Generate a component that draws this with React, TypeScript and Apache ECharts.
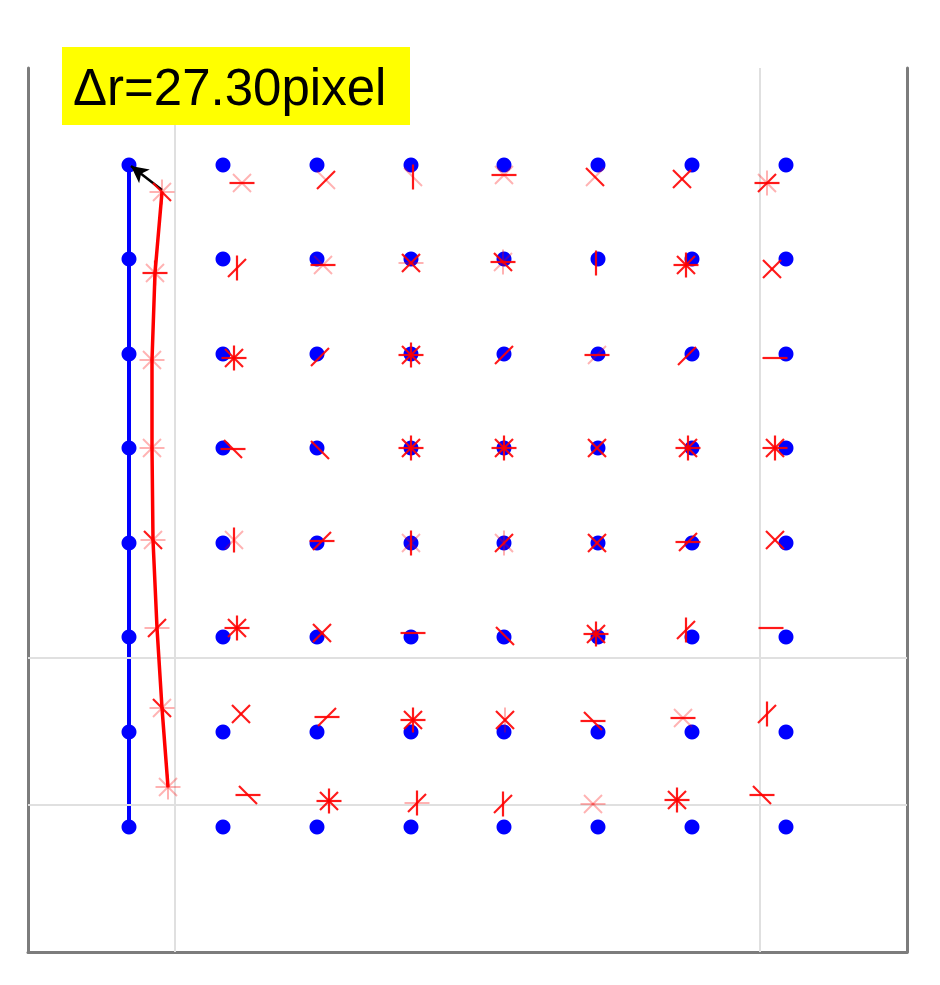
import React, { useEffect, useRef } from "react";
import * as echarts from "echarts";

// axis extents (image-pixel units, y grows downward)
const X_RANGE = [28, 907];
const Y_RANGE = [68, 952];
// grid / tick positions
const GRID_X = [175, 760];
const GRID_Y = [658, 805];

// reference (blue) lattice
const BLUE_COL_X = [129, 223, 317, 411, 504, 598, 692, 786];
const BLUE_ROW_Y = [165, 259, 354, 448, 543, 637, 732, 827];

// measured (red) positions, row by row
const RED_X = [
  [162, 242, 326, 413, 504, 595, 682, 767],
  [155, 237, 323, 411, 503, 596, 686, 772],
  [152, 234, 320, 411, 504, 597, 687, 775],
  [152, 233, 320, 411, 504, 597, 688, 775],
  [153, 234, 322, 411, 504, 597, 688, 775],
  [157, 237, 322, 413, 505, 596, 686, 771],
  [162, 241, 327, 413, 505, 593, 683, 767],
  [168, 248, 329, 417, 503, 593, 677, 762],
];
const RED_Y = [
  [192, 183, 180, 177, 175, 177, 179, 183],
  [273, 268, 265, 263, 262, 263, 265, 269],
  [360, 358, 357, 355, 355, 355, 356, 358],
  [448, 449, 450, 448, 448, 448, 448, 448],
  [540, 540, 541, 543, 543, 543, 542, 540],
  [628, 628, 633, 633, 636, 634, 630, 628],
  [708, 714, 717, 720, 720, 721, 718, 714],
  [787, 795, 801, 803, 804, 804, 800, 795],
];
// marker strokes "strong:faint"; h = horizontal, v = vertical, r = rising, f = falling
const RED_SHAPES = [
  ["f:rhv", "h:rf", "r:f", "v:f", "h:rf", "f:r", "rf:", "hr:fv"],
  ["hv:rf", "vr:", "h:rf", "rf:h", "hf:vr", "v:", "hvrf:", "rf:"],
  [":rfhv", "hvrf:", "r:", "hvrf:", "r:", "h:r", "r:", "h:"],
  [":hvrf", "hf:", "f:", "hvrf:", "hvrf:", "rf:", "hvrf:", "hvrf:"],
  ["f:rhv", "v:rf", "hr:", "v:rf", "r:fv", "rf:", "hr:", "rf:"],
  ["r:h", "hvrf:", "rf:", "h:", "f:", "hvrf:", "vr:", "h:"],
  ["f:hr", "rf:", "hr:", "hvrf:", "rf:v", "hf:", "h:rf", "vr:"],
  [":hvrf", "hf:", "hvrf:", "vr:h", "vr:", ":rfh", "hvrf:", "hf:"],
];

const LABEL_TEXT = "\u0394r=27.30pixel";

export default function App() {
  const ref = useRef<HTMLDivElement>(null);

  useEffect(() => {
    if (!ref.current) return;
    const chart = echarts.init(ref.current, null, { renderer: "svg" });

    const blueData: number[][] = [];
    BLUE_ROW_Y.forEach((y) => BLUE_COL_X.forEach((x) => blueData.push([x, y])));
    const blueLine = BLUE_ROW_Y.map((y) => [BLUE_COL_X[0], y]);

    const redData: number[][] = [];
    const redShapes: string[] = [];
    RED_X.forEach((row, r) =>
      row.forEach((x, c) => {
        redData.push([x, RED_Y[r][c]]);
        redShapes.push(RED_SHAPES[r][c]);
      })
    );
    const redLine = RED_X.map((row, r) => [row[0], RED_Y[r][0]]);

    const tickData = [
      ...GRID_X.map((v) => [v, Y_RANGE[1]]),
      ...GRID_Y.map((v) => [X_RANGE[0], v]),
    ];

    const axisLineStyle = { color: "#7c7c7c", width: 3 };

    const strokeDef: Record<string, [number, number]> = {
      h: [12.5, 0],
      v: [0, 12.5],
      r: [9, -9],
      f: [9, 9],
    };

    const option: any = {
      animation: false,
      backgroundColor: "#ffffff",
      grid: { left: X_RANGE[0], right: 940 - X_RANGE[1], top: Y_RANGE[0], bottom: 985 - Y_RANGE[1] },
      xAxis: {
        type: "value",
        min: X_RANGE[0],
        max: X_RANGE[1],
        axisLine: { show: true, onZero: false, lineStyle: axisLineStyle },
        axisTick: { show: false },
        axisLabel: { show: false },
        splitLine: { show: false },
      },
      yAxis: [
        {
          type: "value",
          min: Y_RANGE[0],
          max: Y_RANGE[1],
          inverse: true,
          position: "left",
          axisLine: { show: true, onZero: false, lineStyle: axisLineStyle },
          axisTick: { show: false },
          axisLabel: { show: false },
          splitLine: { show: false },
        },
        {
          type: "value",
          min: Y_RANGE[0],
          max: Y_RANGE[1],
          inverse: true,
          position: "right",
          axisLine: { show: true, onZero: false, lineStyle: axisLineStyle },
          axisTick: { show: false },
          axisLabel: { show: false },
          splitLine: { show: false },
        },
      ],
      series: [
        {
          type: "line",
          z: 1,
          data: [],
          silent: true,
          markLine: {
            silent: true,
            symbol: ["none", "none"],
            label: { show: false },
            lineStyle: { color: "#e0e0e0", width: 2, type: "solid" },
            data: [
              ...GRID_X.map((v) => ({ xAxis: v })),
              ...GRID_Y.map((v) => ({ yAxis: v })),
            ],
          },
        },
        {
          type: "custom",
          z: 2,
          silent: true,
          data: tickData,
          renderItem: (params: any, api: any) => {
            const cs = params.coordSys;
            const i = params.dataIndex;
            const p = api.coord([api.value(0), api.value(1)]);
            const style = { stroke: "#4a4a4a", lineWidth: 2 };
            const L = 8;
            if (i < GRID_X.length) {
              return {
                type: "group",
                children: [
                  { type: "line", shape: { x1: p[0], y1: cs.y + cs.height, x2: p[0], y2: cs.y + cs.height - L }, style },
                  { type: "line", shape: { x1: p[0], y1: cs.y, x2: p[0], y2: cs.y + L }, style },
                ],
              };
            }
            return {
              type: "group",
              children: [
                { type: "line", shape: { x1: cs.x, y1: p[1], x2: cs.x + L, y2: p[1] }, style },
                { type: "line", shape: { x1: cs.x + cs.width, y1: p[1], x2: cs.x + cs.width - L, y2: p[1] }, style },
              ],
            };
          },
        },
        {
          type: "line",
          z: 3,
          data: blueLine,
          symbol: "none",
          lineStyle: { color: "#0000ff", width: 4 },
          silent: true,
        },
        {
          type: "scatter",
          z: 4,
          data: blueData,
          symbol: "circle",
          symbolSize: 15,
          itemStyle: { color: "#0000ff", opacity: 1 },
          silent: true,
        },
        {
          type: "line",
          z: 5,
          data: redLine,
          symbol: "none",
          lineStyle: { color: "#ff0000", width: 3.5 },
          silent: true,
          markLine: {
            silent: true,
            symbol: ["none", "arrow"],
            symbolSize: [13, 17],
            label: { show: false },
            lineStyle: { color: "#000000", width: 2.5, type: "solid" },
            data: [
              [
                { coord: [RED_X[0][0], RED_Y[0][0] - 2] },
                { coord: [BLUE_COL_X[0] + 2, BLUE_ROW_Y[0] + 1] },
              ],
            ],
          },
        },
        {
          type: "custom",
          z: 6,
          silent: true,
          data: redData,
          renderItem: (params: any, api: any) => {
            const p = api.coord([api.value(0), api.value(1)]);
            const [strong, faint] = redShapes[params.dataIndex].split(":");
            const children: any[] = [];
            const add = (chars: string, opacity: number, lw: number) => {
              for (const ch of chars) {
                const d = strokeDef[ch];
                if (!d) continue;
                children.push({
                  type: "line",
                  shape: { x1: p[0] - d[0], y1: p[1] - d[1], x2: p[0] + d[0], y2: p[1] + d[1] },
                  style: { stroke: "#ff0000", lineWidth: lw, opacity },
                });
              }
            };
            add(faint || "", 0.3, 2);
            add(strong || "", 0.9, 2.2);
            return { type: "group", children };
          },
        },
      ],
      graphic: [
        {
          type: "rect",
          z: 100,
          zlevel: 0,
          shape: { x: 62, y: 47, width: 348, height: 78 },
          style: { fill: "#ffff00" },
        },
        {
          type: "text",
          z: 101,
          zlevel: 0,
          x: 73,
          y: 87,
          style: {
            text: LABEL_TEXT,
            fill: "#000000",
            font: '51px "Liberation Sans", Arial, sans-serif',
            textAlign: "left",
            textVerticalAlign: "middle",
          },
        },
      ],
    };

    chart.setOption(option);
    return () => chart.dispose();
  }, []);

  return (
    <div
      ref={ref}
      style={{ position: "fixed", left: 0, top: 0, width: 940, height: 985, background: "#fff" }}
    />
  );
}
